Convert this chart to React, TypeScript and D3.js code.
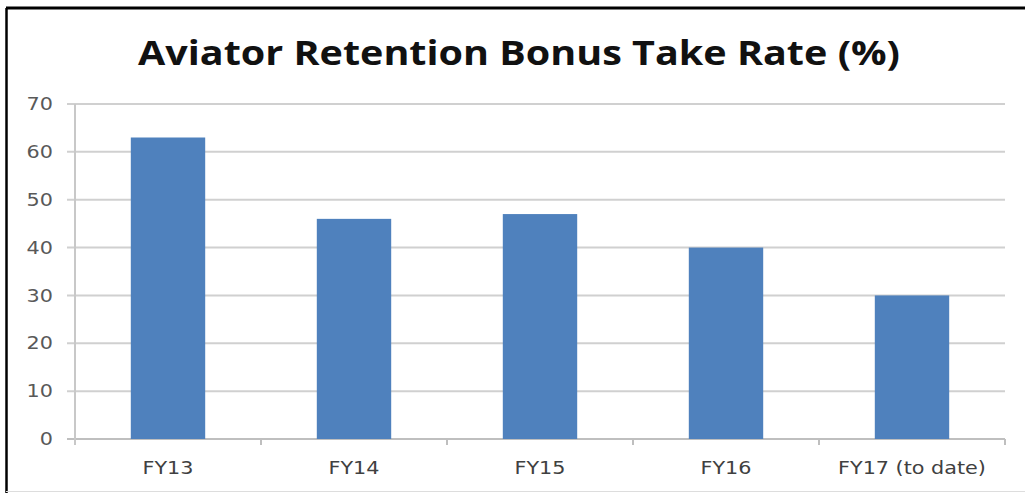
import React from "react";
import * as d3 from "d3";

const categories = ["FY13", "FY14", "FY15", "FY16", "FY17 (to date)"];
const values = [63, 46, 47, 40, 30];
const yTicks = [0, 10, 20, 30, 40, 50, 60, 70];
const title = "Aviator Retention Bonus Take Rate (%)";

export default function App() {
  const W = 1025, H = 493;
  const left = 75, right = 1005, top = 104, bottom = 439;
  const x = d3.scaleBand<string>().domain(categories).range([left, right]).paddingInner(0.6).paddingOuter(0.3);
  const xc = d3.scaleBand<string>().domain(categories).range([left, right]);
  const y = d3.scaleLinear().domain([0, 70]).range([bottom, top]);
  const font = "'DejaVu Sans', sans-serif";
  const sx = 1.22;
  return (
    <svg width={W} height={H} style={{ position: "absolute", left: 0, top: 0, background: "#fff" }} fontFamily={font}>
      <rect x={0} y={0} width={W} height={H} fill="#fff" />
      <line x1={6} y1={8} x2={W} y2={8} stroke="#000" strokeWidth={3} />
      <line x1={6.5} y1={8} x2={6.5} y2={H} stroke="#000" strokeWidth={2.5} />
      <line x1={6} y1={491.5} x2={W} y2={491.5} stroke="#ddd" strokeWidth={1} />
      <text x={519} y={65} textAnchor="middle" fontSize={34} fontWeight="bold" fill="#111"
        fontFamily="'Open Sans', sans-serif" textLength={762} lengthAdjust="spacingAndGlyphs">{title}</text>
      {yTicks.map((t) => (
        <g key={t}>
          <line x1={left - 8} x2={right} y1={y(t)} y2={y(t)} stroke={t === 0 ? "#bfbfbf" : "#d0d0d0"} strokeWidth={2} />
          <text transform={`translate(${left - 22},${y(t)}) scale(${sx},1)`} dy="0.36em" textAnchor="end" fontSize={17} fill="#595959">{t}</text>
        </g>
      ))}
      <line x1={left} x2={left} y1={top} y2={bottom + 6} stroke="#c8c8c8" strokeWidth={2} />
      {categories.map((c, i) => (
        <line key={"t" + i} x1={xc(c)! + xc.bandwidth()} x2={xc(c)! + xc.bandwidth()} y1={bottom} y2={bottom + 6} stroke="#bfbfbf" strokeWidth={2} />
      ))}
      {categories.map((c, i) => (
        <rect key={c} x={x(c)} y={y(values[i])} width={x.bandwidth()} height={bottom - y(values[i])} fill="#4f81bd" />
      ))}
      {categories.map((c) => (
        <text key={"l" + c} transform={`translate(${xc(c)! + xc.bandwidth() / 2},468) scale(${sx},1)`} dy="0.36em" textAnchor="middle" fontSize={17} fill="#404040">{c}</text>
      ))}
    </svg>
  );
}
